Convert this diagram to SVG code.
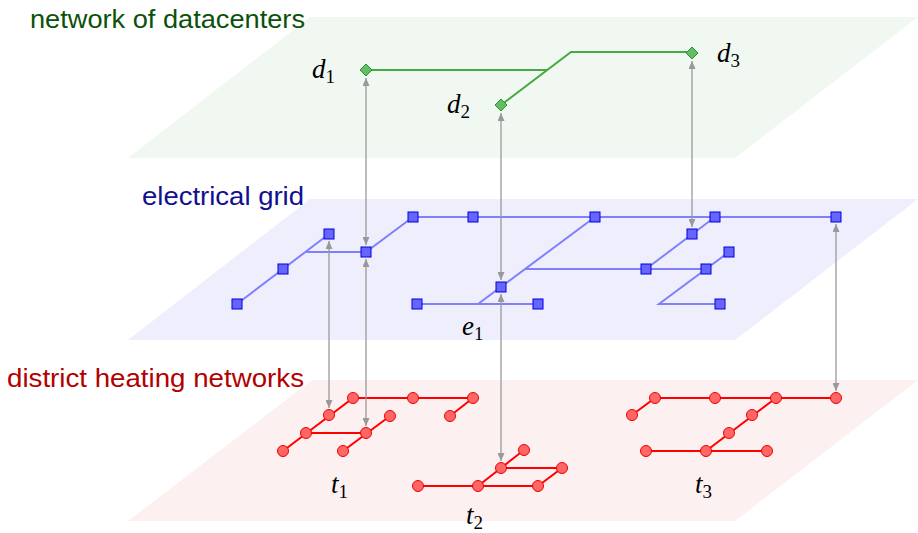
<svg xmlns="http://www.w3.org/2000/svg" width="918" height="533" viewBox="0 0 918 533">
<style>
.lbl{font-family:"Liberation Sans","DejaVu Sans",sans-serif;font-size:25px;text-anchor:end}
.m{font-family:"Liberation Serif","DejaVu Serif",serif;font-size:27px;font-style:italic;fill:#000}
.sub{font-size:19px;font-style:normal}
.ge{stroke:#44aa44;stroke-width:2;fill:none}
.gn{fill:#66bb66;stroke:#229922;stroke-width:1}
.be{stroke:#8080ff;stroke-width:2;fill:none}
.bn{fill:#6666ff;stroke:#0000dd;stroke-width:1}
.re{stroke:#ff0000;stroke-width:2;fill:none}
.rn{fill:#ff6666;stroke:#ee0000;stroke-width:1}
.ar{stroke:#999999;stroke-width:1.3;fill:none;marker-start:url(#ah);marker-end:url(#ah)}
</style>
<defs>
<marker id="ah" viewBox="0 0 8 7" refX="8" refY="3.5" markerWidth="8" markerHeight="7" markerUnits="userSpaceOnUse" orient="auto-start-reverse">
<path d="M0,0 L8,3.5 L0,7 z" fill="#999999"/>
</marker>
<rect id="sq" x="-5" y="-5" width="10" height="10" class="bn"/>
<circle id="ci" r="5.5" class="rn"/>
<path id="dm" d="M0,-6 L6,0 L0,6 L-6,0 z" class="gn"/>
</defs>

<g id="planes">
<polygon points="310,17 918,17 735,158 128,158" fill="#f1f8f1"/>
<polygon points="310,199 918,199 735,340 128,340" fill="#eeeefd"/>
<polygon points="312,380 918,380 735,521 128,521" fill="#fdf0f0"/>
</g>

<g id="layer-labels">
<text class="lbl" x="305" y="28" fill="#0a520a" textLength="275" lengthAdjust="spacingAndGlyphs">network of datacenters</text>
<text class="lbl" x="304" y="205" fill="#101090" textLength="162" lengthAdjust="spacingAndGlyphs">electrical grid</text>
<text class="lbl" x="304" y="387" fill="#b30000" textLength="297" lengthAdjust="spacingAndGlyphs">district heating networks</text>
</g>

<g id="edges">
<g id="datacenter-edges">
<path class="ge" d="M366,70 H547 M501,105 L571,52 H692"/>
</g>
<g id="grid-edges">
<path class="be" d="M237,304 L329,234 M306,252 H366 L413,217 H836 M595,217 L478,304 M417,304 H538 M525,269 H706 M715,217 L646,269 M729,252 L659,304 H720"/>
</g>
<g id="heating-edges">
<path class="re" d="M283,451 L353,398 H473 M450,416 L473,398 M306,433 H366 M343,451 L390,416"/>
<path class="re" d="M418,486 H538 L562,468 H501 M478,486 L524,450"/>
<path class="re" d="M632,415 L655,398 H836 M776,398 L706,451 M646,451 H767"/>
</g>
<g id="couplings">
<line class="ar" x1="366" y1="78" x2="366" y2="245"/>
<line class="ar" x1="501" y1="113" x2="501" y2="280"/>
<line class="ar" x1="692" y1="61" x2="692" y2="227"/>
<line class="ar" x1="329" y1="241" x2="329" y2="408"/>
<line class="ar" x1="366" y1="259" x2="366" y2="426"/>
<line class="ar" x1="501" y1="294" x2="501" y2="461"/>
<line class="ar" x1="836" y1="224" x2="836" y2="391"/>
</g>
</g>

<g id="d1"><use href="#dm" x="366" y="70"/><text class="m" x="312" y="78">d<tspan class="sub" dy="5">1</tspan></text></g>
<g id="d2"><use href="#dm" x="501" y="105"/><text class="m" x="447" y="113">d<tspan class="sub" dy="5">2</tspan></text></g>
<g id="d3"><use href="#dm" x="692" y="53"/><text class="m" x="717" y="62">d<tspan class="sub" dy="5">3</tspan></text></g>

<g id="grid-nodes">
<use href="#sq" x="237" y="304"/>
<use href="#sq" x="283" y="269"/>
<use href="#sq" x="329" y="234"/>
<use href="#sq" x="366" y="252"/>
<use href="#sq" x="413" y="217"/>
<use href="#sq" x="473" y="217"/>
<use href="#sq" x="595" y="217"/>
<use href="#sq" x="417" y="304"/>
<use href="#sq" x="538" y="304"/>
<use href="#sq" x="715" y="217"/>
<use href="#sq" x="836" y="217"/>
<use href="#sq" x="692" y="234"/>
<use href="#sq" x="729" y="252"/>
<use href="#sq" x="646" y="269"/>
<use href="#sq" x="706" y="269"/>
<use href="#sq" x="720" y="304"/>
</g>
<g id="e1"><use href="#sq" x="501" y="287"/><text class="m" x="462" y="335">e<tspan class="sub" dy="5">1</tspan></text></g>

<g id="t1">
<use href="#ci" x="283" y="451"/>
<use href="#ci" x="306" y="433"/>
<use href="#ci" x="329" y="415"/>
<use href="#ci" x="353" y="398"/>
<use href="#ci" x="413" y="398"/>
<use href="#ci" x="473" y="398"/>
<use href="#ci" x="450" y="416"/>
<use href="#ci" x="390" y="416"/>
<use href="#ci" x="366" y="433"/>
<use href="#ci" x="343" y="451"/>
<text class="m" x="331" y="493">t<tspan class="sub" dy="5">1</tspan></text>
</g>
<g id="t2">
<use href="#ci" x="418" y="486"/>
<use href="#ci" x="478" y="486"/>
<use href="#ci" x="501" y="468"/>
<use href="#ci" x="524" y="450"/>
<use href="#ci" x="538" y="486"/>
<use href="#ci" x="562" y="468"/>
<text class="m" x="466" y="524">t<tspan class="sub" dy="5">2</tspan></text>
</g>
<g id="t3">
<use href="#ci" x="632" y="415"/>
<use href="#ci" x="655" y="398"/>
<use href="#ci" x="715" y="398"/>
<use href="#ci" x="776" y="398"/>
<use href="#ci" x="836" y="398"/>
<use href="#ci" x="752" y="415"/>
<use href="#ci" x="729" y="433"/>
<use href="#ci" x="706" y="451"/>
<use href="#ci" x="646" y="451"/>
<use href="#ci" x="767" y="451"/>
<text class="m" x="695" y="493">t<tspan class="sub" dy="5">3</tspan></text>
</g>
</svg>
